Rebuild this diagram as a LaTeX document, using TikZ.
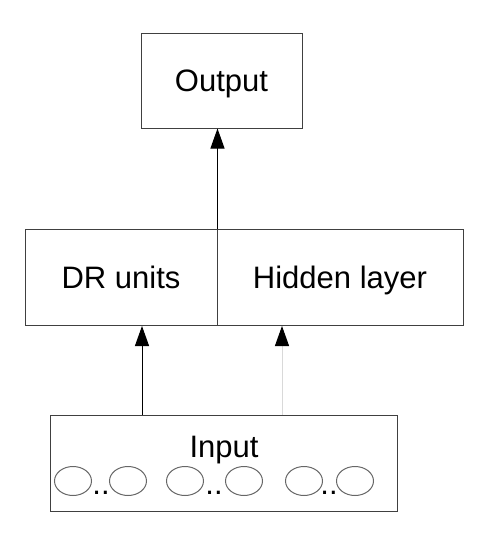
\documentclass[tikz,border=0pt]{standalone}
\usepackage{fontspec}
\setmainfont{Liberation Sans}
\usetikzlibrary{arrows.meta,shapes.geometric}
\begin{document}
\begin{tikzpicture}[x=1pt,y=-1pt,
  box/.style={draw=black!75,line width=1pt,rectangle,inner sep=0pt,text height=22pt,text depth=0pt,font=\fontsize{31}{37}\selectfont},
  lbl/.style={inner sep=0pt,font=\fontsize{31}{37}\selectfont},
  ell/.style={draw=black!60,line width=1pt,ellipse,minimum width=37pt,minimum height=29pt,inner sep=0pt},
  arr/.style={line width=1pt,-{Triangle[length=20pt,width=14pt,color=black]}}]
\useasboundingbox (0,0) rectangle (483,533);
\node[box,minimum width=161pt,minimum height=95pt] (out) at (221.5,80.5) {Output};
\node[box,minimum width=192pt,minimum height=96pt] (dr) at (121,277.5) {DR units};
\node[box,minimum width=246pt,minimum height=96pt] (hid) at (340,277.5) {Hidden layer};
\node[box,minimum width=347pt,minimum height=96pt] (in) at (223.5,463) {};
\node[lbl,anchor=base] (intext) at (224,457) {Input};
\node[ell] (c1) at (73,481) {};
\node[ell] (c2) at (128,481) {};
\node[ell] (c3) at (185,481) {};
\node[ell] (c4) at (244,481) {};
\node[ell] (c5) at (304,481) {};
\node[ell] (c6) at (355,481) {};
\node[lbl,anchor=base] (d1) at (101,494) {..};
\node[lbl,anchor=base] (d2) at (214,494) {..};
\node[lbl,anchor=base] (d3) at (329,494) {..};
\draw[arr] (dr.north east) -- (dr.north east |- out.south);
\draw[arr] (in.north -| 142,0) -- (142,0 |- dr.south);
\draw[arr,draw=black!15] (in.north -| 282,0) -- (282,0 |- hid.south);
\end{tikzpicture}
\end{document}
